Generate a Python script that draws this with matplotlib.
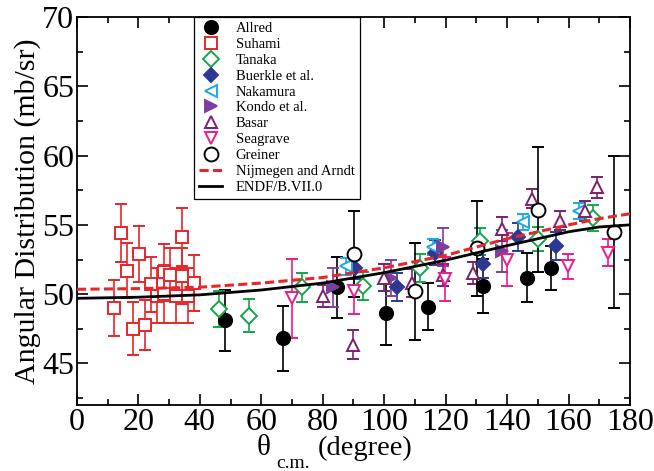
import numpy as np
import matplotlib
matplotlib.use("Agg")
import matplotlib.pyplot as plt
from matplotlib.ticker import MultipleLocator

plt.rcParams["font.family"] = ["Liberation Serif", "DejaVu Serif"]
plt.rcParams["mathtext.fontset"] = "stix"

# data (angle in degree, value and error in mb/sr)
allred_x = [48.2, 67.2, 84.5, 100.6, 114.4, 132.0, 146.6, 154.3]
allred_y = [48.1, 46.8, 50.5, 48.65, 49.1, 50.6, 51.2, 51.9]
allred_e = [2.2, 2.35, 2.2, 2.3, 1.7, 1.95, 1.8, 1.6]

suhami_x = [12.0, 14.2, 16.2, 18.3, 20.3, 22.3, 24.2, 26.1, 28.3, 28.4, 30.3, 32.2, 34.3, 34.3, 36.2, 38.2]
suhami_y = [49.0, 54.4, 51.7, 47.5, 52.9, 47.8, 50.7, 49.9, 51.6, 50.0, 51.4, 49.9, 54.1, 51.3, 49.9, 50.8]
suhami_e = [2.0, 2.1, 2.0, 1.9, 2.0, 1.8, 2.0, 2.0, 2.0, 2.1, 1.9, 2.0, 2.1, 2.0, 2.0, 2.0]

tanaka_x = [46.2, 56.1, 73.1, 93.2, 111.7, 131.2, 150.2, 168.1]
tanaka_y = [48.9, 48.45, 50.5, 50.6, 51.9, 53.8, 54.0, 55.5]
tanaka_e = [1.3, 1.2, 1.05, 1.0, 1.0, 1.0, 0.85, 0.95]

buerkle_x = [90.5, 104.1, 116.5, 132.3, 143.7, 155.8]
buerkle_y = [51.9, 50.5, 53.0, 52.2, 54.1, 53.5]
buerkle_e = [0.8, 1.0, 0.9, 1.0, 1.0, 1.0]

nakamura_x = [87.5, 116.0, 145.3, 163.4]
nakamura_y = [52.0, 53.4, 55.2, 56.0]
nakamura_e = [0.6, 0.6, 0.6, 0.6]

kondo_x = [83.4, 102.1, 119.2, 138.4]
kondo_y = [50.5, 51.2, 53.4, 53.1]
kondo_e = [1.4, 1.3, 1.4, 1.5]

basar_x = [80.2, 90.0, 99.9, 108.9, 119.2, 129.0, 138.2, 148.0, 157.2, 165.4, 169.4]
basar_y = [49.85, 46.35, 51.2, 50.8, 51.4, 51.5, 54.7, 56.9, 55.3, 56.0, 57.7]
basar_e = [0.8, 1.05, 1.0, 1.0, 0.8, 0.8, 0.85, 0.7, 0.7, 0.7, 0.75]

seagrave_x = [70.1, 90.3, 119.8, 139.9, 159.9, 172.7]
seagrave_y = [49.7, 50.2, 51.1, 52.5, 52.0, 53.0]
seagrave_e = [2.85, 1.6, 1.6, 1.9, 0.9, 1.0]

greiner_x = [90.2, 110.0, 130.1, 150.0, 174.9]
greiner_y = [52.9, 50.2, 53.3, 56.1, 54.5]
greiner_e = [3.1, 3.5, 3.4, 4.5, 5.5]

# evaluated curves
curve_x = [0, 20, 40, 60, 80, 100, 120, 140, 160, 170, 180]
nijmegen_y = [50.35, 50.4, 50.5, 50.8, 51.2, 51.9, 52.8, 54.0, 55.0, 55.45, 55.8]
endf_y = [49.7, 49.78, 49.95, 50.3, 50.8, 51.55, 52.45, 53.5, 54.5, 54.85, 55.0]

fig = plt.figure(figsize=(6.54, 4.71), dpi=100)
ax = fig.add_axes([0.1177, 0.1401, 0.8456, 0.8238])

eb = dict(linestyle="none", capsize=4.2, elinewidth=1.2, capthick=1.2, markeredgewidth=1.4)

handles = []
labels = []
def add(x, y, e, label, **kw):
    c = ax.errorbar(x, y, yerr=e, **kw, **eb)
    handles.append(c.lines[0])
    labels.append(label)

add(allred_x, allred_y, allred_e, "Allred", fmt="o", color="black", markersize=9.5)
add(suhami_x, suhami_y, suhami_e, "Suhami", fmt="s", color="#e8262a", mfc="white", markersize=8)
add(tanaka_x, tanaka_y, tanaka_e, "Tanaka", fmt="D", color="#10a84a", mfc="white", markersize=8)
add(buerkle_x, buerkle_y, buerkle_e, "Buerkle et al.", fmt="D", color="#2b3990", markersize=7.5)
add(nakamura_x, nakamura_y, nakamura_e, "Nakamura", fmt="<", color="#1aa9e6", mfc="white", markersize=9)
add(kondo_x, kondo_y, kondo_e, "Kondo et al.", fmt=">", color="#7d3f9f", markersize=9)
add(basar_x, basar_y, basar_e, "Basar", fmt="^", color="#7b1f6e", mfc="white", markersize=9)
add(seagrave_x, seagrave_y, seagrave_e, "Seagrave", fmt="v", color="#ec1c8c", mfc="white", markersize=9)
add(greiner_x, greiner_y, greiner_e, "Greiner", fmt="o", color="black", mfc="white", markersize=10)

l1, = ax.plot(curve_x, nijmegen_y, color="#e8262a", lw=2.2, dashes=(3, 1.4), zorder=5)
l2, = ax.plot(curve_x, endf_y, color="black", lw=2.0, zorder=5)
handles += [l1, l2]
labels += ["Nijmegen and Arndt", "ENDF/B.VII.0"]

ax.set_xlim(0, 180)
ax.set_ylim(42, 70)
ax.xaxis.set_major_locator(MultipleLocator(20))
ax.xaxis.set_minor_locator(MultipleLocator(10))
ax.yaxis.set_major_locator(MultipleLocator(5))
ax.yaxis.set_minor_locator(MultipleLocator(2.5))
ax.tick_params(which="both", direction="in", top=True, right=True, width=1.2)
ax.tick_params(which="major", length=8, labelsize=23, pad=2)
ax.tick_params(which="minor", length=4)
for s in ax.spines.values():
    s.set_linewidth(1.3)

ax.set_ylabel("Angular Distribution (mb/sr)", fontsize=21.5, labelpad=1)

# x label: theta with a low small subscript, as in the reference
fig.text(0.392, 0.034, "θ", fontsize=21, ha="left", va="baseline")
fig.text(0.422, 0.006, "c.m.", fontsize=14, ha="left", va="baseline")
fig.text(0.486, 0.034, "(degree)", fontsize=20.5, ha="left", va="baseline")

leg = ax.legend(handles=handles, labels=labels,
                loc="upper left", bbox_to_anchor=(0.2116, 1.0), borderaxespad=0,
                fontsize=10.5, labelspacing=0.18, handlelength=1.6, handletextpad=0.9,
                borderpad=0.35, fancybox=False, framealpha=1, edgecolor="black",
                numpoints=1)
leg.get_frame().set_linewidth(0.9)

fig.savefig("out.png", dpi=100)
